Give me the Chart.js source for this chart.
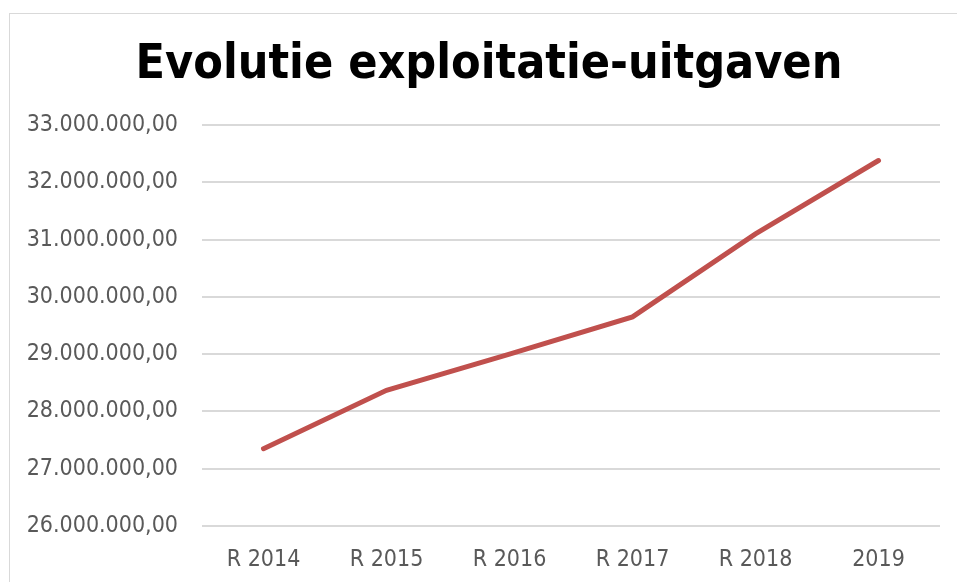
<!DOCTYPE html>
<html>
<head>
<meta charset="utf-8">
<script src="https://cdn.jsdelivr.net/npm/chart.js@4/dist/chart.umd.min.js"></script>
<style>
    html, body { margin: 0; padding: 0; background: #fff; overflow: hidden; }
    .frame {
        position: absolute;
        left: 9px;
        top: 13px;
        width: 1000px;
        height: 700px;
        border: 1px solid #d9d9d9;
    }
    #wrap { position: absolute; left: 0; top: 0; width: 957px; height: 582px; }
</style>
</head>
<body>
<div class="frame"></div>
<div id="wrap"><canvas id="chart"></canvas></div>
<script>
// chart data
const categories = ['R 2014', 'R 2015', 'R 2016', 'R 2017', 'R 2018', '2019'];
const expenses = [27350000, 28370000, 29000000, 29650000, 31100000, 32380000];
const yMin = 26000000;
const yMax = 33000000;
const yStep = 1000000;
const titleText = 'Evolutie exploitatie-uitgaven';

const FONT = "'DejaVu Sans Condensed', 'DejaVu Sans', sans-serif";

// Dutch number format: 33.000.000,00
function formatNl(v) {
    const parts = Math.round(v).toString().replace(/\B(?=(\d{3})+(?!\d))/g, '.');
    return parts + ',00';
}

// title is centred on the outer frame, not on the canvas, so draw it ourselves
const frameTitle = {
    id: 'frameTitle',
    afterDraw(chart) {
        const ctx = chart.ctx;
        ctx.save();
        ctx.font = 'bold 48px ' + FONT;
        ctx.fillStyle = '#000';
        ctx.textAlign = 'center';
        ctx.textBaseline = 'middle';
        ctx.fillText(titleText, 489, 66);
        ctx.restore();
    }
};

new Chart(document.getElementById('chart'), {
    type: 'line',
    data: {
        labels: categories,
        datasets: [{
            label: 'Exploitatie-uitgaven',
            data: expenses,
            borderColor: '#C0504D',
            borderWidth: 5,
            borderCapStyle: 'round',
            pointRadius: 0,
            tension: 0,
            fill: false
        }]
    },
    options: {
        responsive: true,
        maintainAspectRatio: false,
        animation: false,
        layout: {
            padding: { left: 0, right: 17, top: 125, bottom: 0 }
        },
        plugins: {
            legend: { display: false },
            tooltip: { enabled: false },
            title: { display: false }
        },
        scales: {
            x: {
                offset: true,
                grid: { display: false, drawTicks: false },
                border: { display: false },
                ticks: {
                    color: '#595959',
                    font: { family: FONT, size: 23 },
                    padding: 20,
                    maxRotation: 0
                },
                afterFit: (scale) => { scale.height = 56; }
            },
            y: {
                min: yMin,
                max: yMax,
                grid: { color: '#d9d9d9', lineWidth: 2, drawTicks: false },
                border: { display: false },
                ticks: {
                    stepSize: yStep,
                    color: '#595959',
                    font: { family: FONT, size: 23 },
                    padding: 24,
                    callback: (v) => formatNl(v)
                },
                afterFit: (scale) => { scale.width = 202; }
            }
        }
    },
    plugins: [frameTitle]
});
</script>
</body>
</html>
